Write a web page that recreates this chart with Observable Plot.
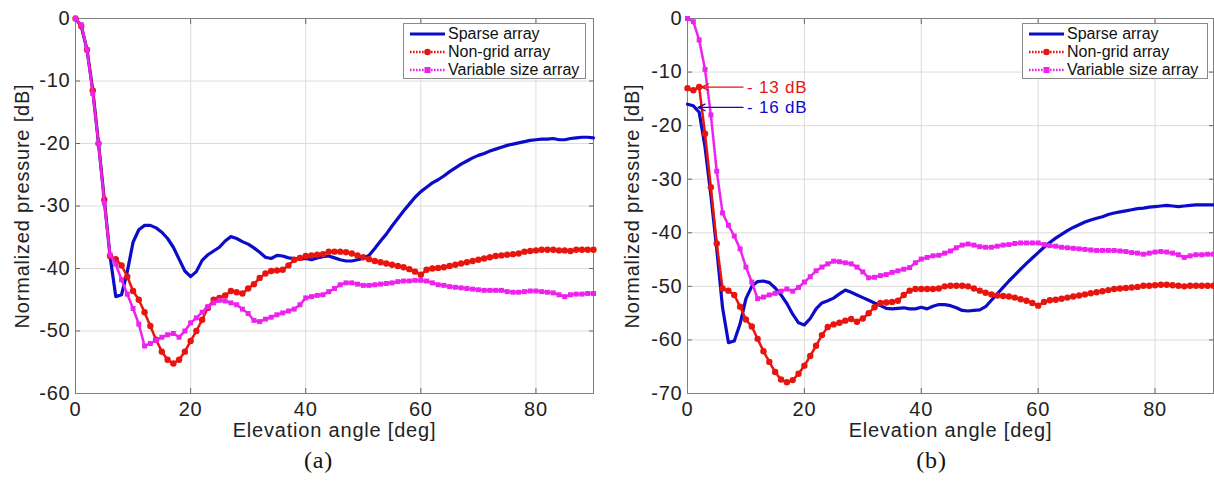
<!DOCTYPE html>
<html><head><meta charset="utf-8">
<script src="https://cdn.jsdelivr.net/npm/d3@7"></script>
<script src="https://cdn.jsdelivr.net/npm/@observablehq/plot@0.6"></script>
<style>
body{margin:0;background:#fff;}
#root{position:relative;width:1214px;height:486px;overflow:hidden;font-family:"Liberation Sans",Arial,sans-serif;}
.panel{position:absolute;top:0;}
.legend{position:absolute;background:#fff;border:1px solid #8a8a8a;box-sizing:border-box;font-size:16px;color:#111;padding-top:1px;}
.legend .row{height:18px;line-height:18px;display:flex;align-items:center;white-space:nowrap;}
.legend svg{margin-left:6px;margin-right:3px;}
</style></head><body><div id="root"></div>
<script>
// ---------- data ----------
const angles = [0,1,2,3,4,5,6,7,8,9,10,11,12,13,14,15,16,17,18,19,20,21,22,23,24,25,26,27,28,29,30,31,32,33,34,35,36,37,38,39,40,41,42,43,44,45,46,47,48,49,50,51,52,53,54,55,56,57,58,59,60,61,62,63,64,65,66,67,68,69,70,71,72,73,74,75,76,77,78,79,80,81,82,83,84,85,86,87,88,89,90];
const seriesNames = ["Sparse array", "Non-grid array", "Variable size array"];
const xTicks = [0, 20, 40, 60, 80];
const yTicksA = [-60, -50, -40, -30, -20, -10, 0];
const yTicksB = [-70, -60, -50, -40, -30, -20, -10, 0];

// panel (a)
const sparseA = [0,-1.2,-5,-11.5,-20,-29,-38,-44.5,-44.2,-40.5,-35.8,-33.8,-33.1,-33.1,-33.5,-34.2,-35.2,-36.6,-38.5,-40.4,-41.3,-40.5,-38.7,-37.8,-37.2,-36.6,-35.6,-34.9,-35.2,-35.7,-36.1,-36.7,-37.4,-38.2,-38.4,-37.9,-38.0,-38.3,-38.4,-38.5,-38.4,-38.6,-38.3,-38.1,-38.0,-38.3,-38.6,-38.8,-38.8,-38.6,-38.4,-37.9,-36.8,-35.6,-34.5,-33.2,-32.0,-30.8,-29.7,-28.6,-27.7,-27.0,-26.3,-25.8,-25.2,-24.5,-23.9,-23.3,-22.8,-22.3,-21.9,-21.6,-21.2,-20.9,-20.6,-20.3,-20.1,-19.9,-19.7,-19.5,-19.4,-19.3,-19.3,-19.2,-19.4,-19.4,-19.2,-19.1,-19.0,-19.0,-19.1];
const nonGridA = [0,-1.2,-5,-11.5,-20,-29,-38,-38.5,-39.5,-41.3,-43.6,-45,-47,-49.2,-51.4,-53.3,-54.6,-55.2,-54.6,-53.3,-51.6,-50,-48.2,-46.3,-45,-44.7,-44.3,-43.6,-43.8,-44,-43.2,-42.5,-41.5,-40.8,-40.4,-40.3,-40.2,-39.5,-38.6,-38.3,-38.0,-37.9,-37.8,-37.7,-37.3,-37.3,-37.3,-37.4,-37.6,-37.9,-38.2,-38.5,-38.8,-39.0,-39.2,-39.4,-39.6,-39.8,-40.1,-40.5,-41.0,-40.2,-40.0,-39.9,-39.8,-39.6,-39.4,-39.2,-39.0,-38.8,-38.6,-38.4,-38.2,-38.0,-37.9,-37.8,-37.7,-37.6,-37.3,-37.2,-37.1,-37.0,-37.0,-37.0,-37.1,-37.1,-37.2,-37.0,-37.0,-37.0,-37.0];
const variableA = [0,-1,-5,-12,-20,-29.5,-37.8,-39.3,-41.8,-44.1,-46.4,-48.9,-52.4,-52,-51.5,-51,-50.6,-50.4,-51,-50,-48.7,-47.9,-47,-46.1,-45.5,-45.1,-45.2,-45.5,-45.8,-46.5,-47.2,-48.3,-48.5,-48.1,-47.8,-47.4,-47.1,-46.8,-46.5,-45.8,-44.7,-44.5,-44.3,-44.2,-43.7,-43.2,-42.6,-42.3,-42.3,-42.5,-42.7,-42.7,-42.6,-42.5,-42.4,-42.3,-42.1,-42.0,-42.0,-41.9,-41.9,-42.0,-42.3,-42.6,-42.7,-42.9,-43.0,-43.1,-43.2,-43.3,-43.4,-43.5,-43.5,-43.5,-43.5,-43.7,-43.8,-43.8,-43.7,-43.6,-43.6,-43.7,-43.8,-43.9,-44.2,-44.5,-44.2,-44.1,-44.1,-44.0,-44.0];

// panel (b)
const sparseB = [-16,-16.3,-17.5,-24,-33,-43,-54,-60.5,-60.2,-57,-52.3,-50,-49.1,-49.0,-49.3,-50.3,-51.6,-53.2,-55.2,-56.8,-57.2,-56,-54.2,-53.1,-52.7,-52.2,-51.4,-50.7,-51.1,-51.6,-52.1,-52.6,-53.1,-53.6,-54.1,-54.2,-54.1,-54.0,-54.2,-54.2,-53.9,-54.2,-53.7,-53.4,-53.4,-53.6,-54.0,-54.5,-54.6,-54.5,-54.4,-53.8,-52.6,-51.4,-50.2,-49.0,-47.9,-46.8,-45.7,-44.7,-43.7,-42.7,-41.8,-41.0,-40.3,-39.6,-39.0,-38.5,-38.0,-37.6,-37.3,-37.0,-36.6,-36.3,-36.1,-35.9,-35.7,-35.5,-35.4,-35.2,-35.1,-35.0,-34.9,-35.0,-35.1,-35.0,-34.9,-34.8,-34.8,-34.8,-34.8];
const nonGridB = [-13,-13.4,-12.8,-21.5,-31.5,-42,-50.4,-50.8,-51.6,-53.8,-56.2,-57.5,-59.8,-62.1,-64.1,-66,-67.4,-67.9,-67.5,-66.3,-64.8,-63,-61.1,-59.1,-57.6,-57.1,-56.8,-56.4,-56.1,-56.6,-56.0,-55.0,-53.9,-53.1,-53.0,-52.9,-52.7,-51.6,-50.8,-50.5,-50.5,-50.5,-50.5,-50.4,-50.0,-49.9,-49.9,-49.9,-50.0,-50.4,-50.8,-51.2,-51.5,-51.7,-51.8,-51.9,-52.1,-52.4,-52.7,-53.1,-53.6,-52.9,-52.6,-52.5,-52.3,-52.1,-51.9,-51.7,-51.5,-51.3,-51.1,-50.9,-50.7,-50.5,-50.4,-50.3,-50.2,-50.1,-49.9,-49.9,-49.8,-49.7,-49.7,-49.8,-49.9,-50.0,-49.9,-49.9,-49.9,-49.9,-49.9];
const variableB = [0,-0.6,-4,-9.5,-18,-28.5,-36.3,-38.6,-40.6,-43,-46.4,-49.2,-52.3,-52,-51.6,-51.3,-50.9,-50.5,-50.9,-50.2,-49.2,-48.2,-47.1,-46.4,-45.8,-45.3,-45.4,-45.6,-45.8,-46.4,-47.3,-48.4,-48.3,-48.0,-47.8,-47.4,-47.1,-46.8,-46.5,-45.6,-44.9,-44.6,-44.3,-44.2,-43.8,-43.4,-42.8,-42.3,-42.1,-42.3,-42.6,-42.7,-42.7,-42.5,-42.3,-42.2,-42.0,-41.9,-41.9,-41.9,-41.9,-42.2,-42.4,-42.5,-42.7,-42.8,-42.9,-43.0,-43.1,-43.2,-43.3,-43.3,-43.3,-43.3,-43.4,-43.5,-43.7,-43.8,-44.0,-43.8,-43.6,-43.5,-43.6,-43.8,-44.1,-44.6,-44.3,-44.1,-44.1,-44.0,-44.0];

// annotations on panel (b): label, tip angle, tail angle, level (dB), series index
const annotLabels = ["- 13 dB", "- 16 dB"];
const annotTip = [2.4, 1.8];
const annotTail = [9.5, 9.5];
const annotLevel = [-12.8, -16.6];
const annotSeries = [1, 0];

const colors = ["#0b0bc8", "#e8150f", "#ee22ee"];
const xLabel = "Elevation angle [deg]";
const yLabel = "Normalized pressure [dB]";
const captions = ["(a)", "(b)"];

// ---------- drawing ----------
const toRows = arr => angles.map((a, i) => ({angle: a, value: arr[i]}));
const fontStyle = {fontFamily: '"Liberation Sans", Arial, sans-serif', fontSize: "20px", letterSpacing: "0.8px", color: "#222", background: "transparent"};
const plainFormat = d => `${d}`;

function panel({series, yTicks, yDomain, left, width, marginLeft, marginRight, caption, captionDx, ylabelDx, annotations}) {
  const [sp, ng, vs] = series.map(toRows);
  const marks = [
    Plot.gridX(xTicks, {stroke: "#dcdcdc", strokeOpacity: 1}),
    Plot.gridY(yTicks, {stroke: "#dcdcdc", strokeOpacity: 1}),
    Plot.axisX({ticks: xTicks, tickSize: 0, tickPadding: 8, tickFormat: plainFormat, label: null, fill: "#222"}),
    Plot.axisY({ticks: yTicks, tickSize: 0, tickPadding: 5, tickFormat: plainFormat, label: null, fill: "#222"}),
    Plot.axisX({ticks: xTicks, anchor: "bottom", tickSize: -5, tickFormat: () => "", label: null, stroke: "#666"}),
    Plot.axisX({ticks: xTicks, anchor: "top", tickSize: -5, tickFormat: () => "", label: null, stroke: "#666"}),
    Plot.axisY({ticks: yTicks, anchor: "left", tickSize: -5, tickFormat: () => "", label: null, stroke: "#666"}),
    Plot.axisY({ticks: yTicks, anchor: "right", tickSize: -5, tickFormat: () => "", label: null, stroke: "#666"}),
    Plot.frame({stroke: "#808080"}),
    Plot.line(sp, {x: "angle", y: "value", stroke: colors[0], strokeWidth: 3.2}),
    Plot.line(ng, {x: "angle", y: "value", stroke: colors[1], strokeWidth: 2.6, strokeDasharray: "1.6,1.4"}),
    Plot.dot(ng, {x: "angle", y: "value", r: 3.2, fill: colors[1], stroke: "none"}),
    Plot.line(vs, {x: "angle", y: "value", stroke: colors[2], strokeWidth: 2.6, strokeDasharray: "1.6,1.4"}),
    Plot.dot(vs, {x: "angle", y: "value", r: 2.8, fill: colors[2], stroke: "none", symbol: "square"}),
    Plot.text([xLabel], {frameAnchor: "bottom", dy: 43, text: d => d, fontSize: 20, fill: "#222", letterSpacing: "1.3px"}),
    Plot.text([yLabel], {frameAnchor: "left", dx: ylabelDx, rotate: -90, textAnchor: "middle", text: d => d, fontSize: 20, fill: "#222", letterSpacing: "0.9px"}),
    Plot.text([caption], {frameAnchor: "bottom", dy: 74, dx: captionDx, text: d => d, fontSize: 24, fill: "#111", fontFamily: '"Liberation Serif", "Times New Roman", serif', letterSpacing: "1.5px"})
  ];
  if (annotations) {
    const ann = annotLabels.map((label, i) => ({label, tip: annotTip[i], tail: annotTail[i], level: annotLevel[i], color: colors[annotSeries[i]]}));
    marks.push(
      Plot.arrow(ann, {x1: "tail", y1: "level", x2: "tip", y2: "level", stroke: d => d.color, strokeWidth: 1.3, headLength: 9, headAngle: 50}),
      Plot.text(ann, {x: "tail", y: "level", text: "label", fill: d => d.color, textAnchor: "start", dx: 4, fontSize: 17, letterSpacing: "0.6px"})
    );
  }
  const svg = Plot.plot({
    width, height: 486,
    marginLeft, marginRight, marginTop: 18, marginBottom: 93,
    x: {domain: [0, 90]},
    y: {domain: yDomain},
    color: {type: "identity"},
    style: fontStyle,
    marks
  });
  const div = document.createElement("div");
  div.className = "panel";
  div.style.left = left + "px";
  div.appendChild(svg);
  return div;
}

function legend(left, top, width) {
  const box = document.createElement("div");
  box.className = "legend";
  box.style.left = left + "px"; box.style.top = top + "px";
  box.style.width = width + "px"; box.style.height = "56px";
  seriesNames.forEach((name, i) => {
    const row = document.createElement("div");
    row.className = "row";
    let sample;
    if (i === 0) sample = `<line x1="0" y1="6" x2="35" y2="6" stroke="${colors[0]}" stroke-width="3.2"/>`;
    else sample = `<line x1="0" y1="6" x2="35" y2="6" stroke="${colors[i]}" stroke-width="2.6" stroke-dasharray="1.6,1.4"/>` +
      (i === 1 ? `<circle cx="17.5" cy="6" r="3.3" fill="${colors[i]}"/>` : `<rect x="14.5" y="3" width="6" height="6" fill="${colors[i]}"/>`);
    row.innerHTML = `<svg width="35" height="12">${sample}</svg><span>${name}</span>`;
    box.appendChild(row);
  });
  return box;
}

const root = document.getElementById("root");
root.appendChild(panel({series: [sparseA, nonGridA, variableA], yTicks: yTicksA, yDomain: [-60, 0], left: 0, width: 600, marginLeft: 75, marginRight: 7, caption: captions[0], captionDx: -16, ylabelDx: -53, annotations: false}));
root.appendChild(panel({series: [sparseB, nonGridB, variableB], yTicks: yTicksB, yDomain: [-70, 0], left: 607, width: 607, marginLeft: 80, marginRight: 1, caption: captions[1], captionDx: -19, ylabelDx: -55, annotations: true}));
root.appendChild(legend(403, 23, 183));
root.appendChild(legend(1022, 23, 186));
</script>
</body></html>
